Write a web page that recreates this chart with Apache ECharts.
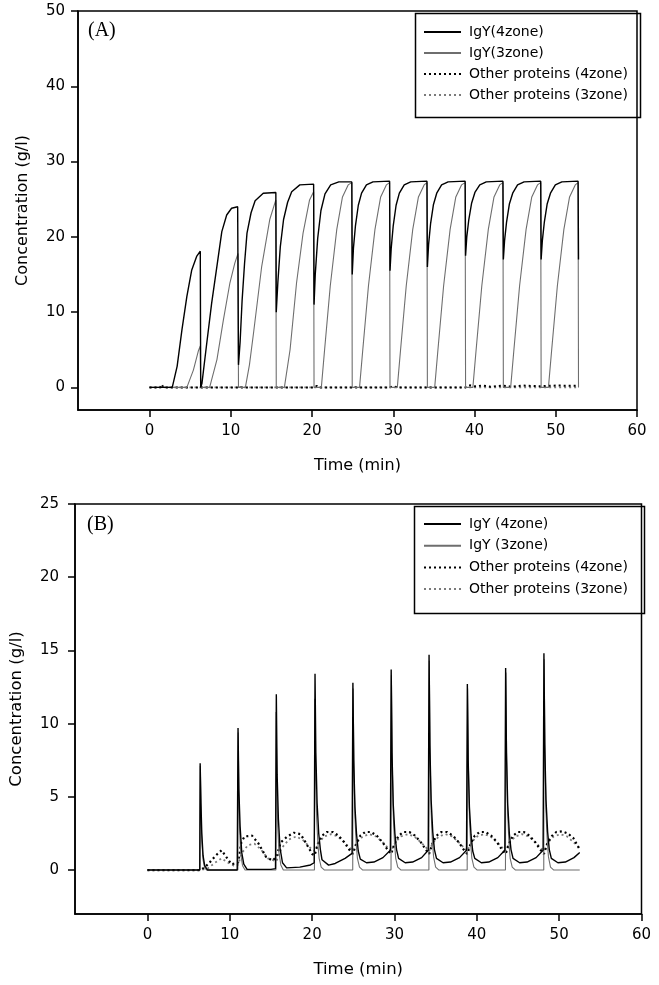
<!DOCTYPE html>
<html>
<head>
<meta charset="utf-8">
<script src="https://cdn.jsdelivr.net/npm/echarts@6/dist/echarts.min.js"></script>
<style>html,body{margin:0;padding:0;background:#fff}#c{width:659px;height:985px}</style>
</head>
<body>
<div id="c"></div>
<script>
// ---------- tick labels ----------
const xTicks = [0, 10, 20, 30, 40, 50, 60];
const yTicksA = [0, 10, 20, 30, 40, 50];
const yTicksB = [0, 5, 10, 15, 20, 25];

// ---------- legend names ----------
const namesA = ['IgY(4zone)', 'IgY(3zone)', 'Other proteins (4zone)', 'Other proteins (3zone)'];
const namesB = ['IgY (4zone)', 'IgY (3zone)', 'Other proteins (4zone)', 'Other proteins (3zone)'];

// ---------- Panel A data [time (min), concentration (g/l)] ----------
const A_igy4 = [
  [0,0],[2.8,0],[3.4,2.8],[4.0,7.7],[4.6,12.1],[5.2,15.6],[5.8,17.4],[6.25,18.1],[6.3,0],
  [6.45,0.5],[7.05,5.9],[7.65,11.2],[8.3,16.1],[8.9,20.7],[9.5,22.9],[10.1,23.8],[10.85,24.0],[10.95,3.0],
  [11.15,6],[11.4,11.6],[11.7,16.5],[12.0,20.5],[12.5,23.2],[13.0,24.8],[14.0,25.8],[15.55,25.9],[15.6,10],
  [15.8,14],[16.1,18.7],[16.5,22.3],[17.0,24.6],[17.5,26.0],[18.5,26.9],[20.2,27.0],[20.25,11],
  [20.4,15],[20.7,19.8],[21.1,23.5],[21.6,25.7],[22.3,26.9],[23.3,27.3],[24.9,27.3],[24.95,15],
  [25.1,18.5],[25.35,21.5],[25.7,24.2],[26.1,25.8],[26.7,26.9],[27.5,27.3],[29.55,27.4],[29.6,15.5],
  [29.75,18.5],[30.0,21.5],[30.35,24.2],[30.75,25.8],[31.35,26.9],[32.15,27.3],[34.15,27.4],[34.2,16],
  [34.35,19],[34.6,21.8],[34.95,24.3],[35.35,25.8],[35.95,26.9],[36.75,27.3],[38.85,27.4],[38.9,17.5],
  [39.05,20],[39.3,22.3],[39.65,24.5],[40.05,25.9],[40.65,26.9],[41.45,27.3],[43.5,27.4],[43.55,17],
  [43.7,19.5],[43.95,22],[44.3,24.4],[44.7,25.8],[45.3,26.9],[46.1,27.3],[48.15,27.4],[48.2,17],
  [48.35,19.5],[48.6,22],[48.95,24.4],[49.35,25.8],[49.95,26.9],[50.75,27.3],[52.75,27.4],[52.8,17]
];
const A_igy3 = [
  [0,0],[4.6,0],[5.4,2.3],[6.0,4.8],[6.25,5.5],[6.3,0],
  [7.4,0],[8.3,3.7],[9.1,9.0],[9.9,13.9],[10.5,16.5],[10.9,17.8],[10.95,0],
  [11.8,0],[12.3,3],[12.8,7.2],[13.8,16],[14.8,22.3],[15.55,24.9],[15.6,0],
  [16.6,0],[17.3,5],[18.1,13.9],[18.9,20.5],[19.7,24.9],[20.2,26.0],[20.25,0],
  [21.15,0],[21.55,5],[22.25,13.5],[23.05,21],[23.75,25.3],[24.45,26.9],[24.9,27.2],[24.95,0],
  [25.85,0],[26.25,5],[26.95,13.5],[27.75,21],[28.45,25.3],[29.15,26.9],[29.55,27.2],[29.6,0],
  [30.5,0],[30.9,5],[31.6,13.5],[32.4,21],[33.1,25.3],[33.8,26.9],[34.15,27.2],[34.2,0],
  [35.1,0],[35.5,5],[36.2,13.5],[37.0,21],[37.7,25.3],[38.4,26.9],[38.85,27.2],[38.9,0],
  [39.8,0],[40.2,5],[40.9,13.5],[41.7,21],[42.4,25.3],[43.1,26.9],[43.5,27.2],[43.55,0],
  [44.45,0],[44.85,5],[45.55,13.5],[46.35,21],[47.05,25.3],[47.75,26.9],[48.15,27.2],[48.2,0],
  [49.1,0],[49.5,5],[50.2,13.5],[51.0,21],[51.7,25.3],[52.4,26.9],[52.75,27.2],[52.8,0]
];
const A_oth4 = [
  [0,0],[1.3,0],[1.5,0.4],[1.7,0],[20.3,0],[20.6,0.2],[21.0,0],[29.6,0],[30.0,0.15],[30.5,0],
  [38.9,0],[39.3,0.3],[40.0,0.15],[41.0,0.25],[42.0,0.1],[43.5,0.25],[44.5,0.1],[46.0,0.25],
  [48.0,0.15],[50.0,0.25],[52.75,0.2]
];
const A_oth3 = [
  [0,0],[10.9,0],[11.2,0.1],[11.6,0],[25.0,0],[25.4,0.1],[25.8,0],[52.75,0]
];

// ---------- Panel B data [time (min), concentration (g/l)] ----------
const B_igy4 = [
  [0,0],[6.35,0],
  [6.4,7.3],[6.5,4.5],[6.6,2.5],[6.75,1.0],[6.95,0.3],[7.3,0],[10.9,0],
  [11.0,9.7],[11.1,5.5],[11.25,3.0],[11.45,1.2],[11.7,0.4],[12.1,0.05],[15.0,0.05],[15.55,0.1],
  [15.65,12.0],[15.75,6.5],[15.9,3.5],[16.1,1.5],[16.4,0.5],[16.9,0.15],[18.5,0.2],[19.8,0.35],[20.25,0.5],
  [20.35,13.4],[20.45,8],[20.6,4.6],[20.8,2.5],[21.0,1.4],[21.2,0.7],[22.0,0.34],[22.8,0.45],[24.0,0.8],[24.85,1.14],
  [24.95,12.8],[25.05,7.5],[25.2,4.3],[25.4,2.4],[25.6,1.3],[25.85,0.75],[26.6,0.5],[27.5,0.55],[28.6,0.85],[29.5,1.35],
  [29.6,13.7],[29.7,8],[29.85,4.5],[30.05,2.5],[30.25,1.4],[30.5,0.8],[31.3,0.5],[32.2,0.55],[33.3,0.85],[34.1,1.35],
  [34.2,14.7],[34.3,8.5],[34.45,4.8],[34.65,2.6],[34.85,1.4],[35.1,0.8],[35.9,0.5],[36.8,0.55],[37.9,0.85],[38.75,1.35],
  [38.85,12.7],[38.95,7.5],[39.1,4.3],[39.3,2.4],[39.5,1.3],[39.75,0.8],[40.55,0.5],[41.45,0.55],[42.55,0.85],[43.4,1.35],
  [43.5,13.8],[43.6,8],[43.75,4.5],[43.95,2.5],[44.15,1.4],[44.4,0.8],[45.2,0.5],[46.1,0.55],[47.2,0.85],[48.05,1.35],
  [48.15,14.8],[48.25,8.6],[48.4,4.8],[48.6,2.6],[48.8,1.4],[49.05,0.8],[49.85,0.5],[50.75,0.55],[51.8,0.85],[52.5,1.2]
];
const B_igy3 = [
  [0,0],[6.38,0],[6.42,7.1],[6.5,4.0],[6.6,2.0],[6.75,0.7],[6.95,0.15],[7.2,0],
  [10.98,0],[11.02,9.4],[11.1,5.0],[11.2,2.6],[11.35,1.0],[11.55,0.3],[11.85,0],
  [15.6,0],[15.62,10.8],[15.72,6.0],[15.82,3.0],[15.97,1.2],[16.2,0.35],[16.5,0],
  [20.28,0],[20.32,11.7],[20.42,6.5],[20.55,3.5],[20.7,1.8],[20.85,0.8],[21.1,0.2],[21.5,0],
  [24.93,0],[24.98,12.4],[25.08,7],[25.2,3.6],[25.35,1.8],[25.5,0.8],[25.75,0.2],[26.15,0],
  [29.58,0],[29.63,13.3],[29.73,7.3],[29.85,3.8],[30.0,1.9],[30.15,0.8],[30.4,0.2],[30.8,0],
  [34.18,0],[34.23,14.3],[34.33,7.8],[34.45,4.0],[34.6,2.0],[34.75,0.9],[35.0,0.2],[35.4,0],
  [38.83,0],[38.88,12.4],[38.98,7],[39.1,3.6],[39.25,1.8],[39.4,0.8],[39.65,0.2],[40.05,0],
  [43.48,0],[43.53,13.5],[43.63,7.4],[43.75,3.8],[43.9,1.9],[44.05,0.8],[44.3,0.2],[44.7,0],
  [48.13,0],[48.18,14.4],[48.28,7.8],[48.4,4.0],[48.55,2.0],[48.7,0.9],[48.95,0.2],[49.35,0],[52.5,0]
];
const B_oth4 = [
  [0,0],[6.4,0],[7.0,0.2],[7.6,0.55],[8.3,1.0],[9.0,1.35],[9.5,0.95],[10.2,0.4],[11.0,0.5],
  [11.4,1.9],[11.8,2.3],[12.7,2.35],[13.5,1.8],[14.4,0.9],[15.2,0.65],[15.65,0.9],
  [16.2,1.9],[17.0,2.3],[17.8,2.55],[18.6,2.45],[19.3,1.8],[20.0,1.1],[20.3,1.0],
  [20.7,1.8],[21.2,2.35],[21.8,2.6],[22.5,2.6],[23.2,2.35],[23.9,1.9],[24.5,1.4],[24.95,1.1],
  [25.35,1.8],[25.85,2.35],[26.45,2.6],[27.15,2.6],[27.85,2.35],[28.55,1.9],[29.15,1.4],[29.6,1.1],
  [30.0,1.8],[30.5,2.35],[31.1,2.6],[31.8,2.6],[32.5,2.35],[33.2,1.9],[33.8,1.4],[34.2,1.1],
  [34.6,1.8],[35.1,2.35],[35.7,2.6],[36.4,2.6],[37.1,2.35],[37.8,1.9],[38.4,1.4],[38.85,1.1],
  [39.25,1.8],[39.75,2.35],[40.35,2.6],[41.05,2.6],[41.75,2.35],[42.45,1.9],[43.05,1.4],[43.5,1.1],
  [43.9,1.8],[44.4,2.35],[45.0,2.6],[45.7,2.6],[46.4,2.35],[47.1,1.9],[47.7,1.4],[48.15,1.1],
  [48.55,1.8],[49.05,2.3],[49.65,2.6],[50.35,2.65],[51.05,2.5],[51.7,2.2],[52.2,1.7],[52.5,1.4]
];
const B_oth3 = [
  [0,0],[6.4,0],[7.3,0.1],[8.2,0.5],[9.0,0.8],[9.8,0.5],[10.5,0.3],[11.0,0.35],
  [11.5,1.2],[12.2,1.7],[13.0,1.8],[13.8,1.4],[14.6,0.8],[15.65,0.6],
  [16.3,1.5],[17.2,2.1],[18.1,2.3],[19.0,2.0],[19.8,1.5],[20.3,1.3],
  [20.8,1.9],[21.5,2.3],[22.3,2.45],[23.1,2.3],[23.9,1.9],[24.6,1.5],[24.95,1.3],
  [25.45,1.9],[26.15,2.3],[26.95,2.45],[27.75,2.3],[28.55,1.9],[29.25,1.5],[29.6,1.3],
  [30.1,1.9],[30.8,2.3],[31.6,2.45],[32.4,2.3],[33.2,1.9],[33.9,1.5],[34.2,1.3],
  [34.7,1.9],[35.4,2.3],[36.2,2.45],[37.0,2.3],[37.8,1.9],[38.5,1.5],[38.85,1.3],
  [39.35,1.9],[40.05,2.3],[40.85,2.45],[41.65,2.3],[42.45,1.9],[43.15,1.5],[43.5,1.3],
  [44.0,1.9],[44.7,2.3],[45.5,2.45],[46.3,2.3],[47.1,1.9],[47.8,1.5],[48.15,1.3],
  [48.65,1.9],[49.35,2.3],[50.15,2.45],[50.95,2.3],[51.75,1.9],[52.5,1.5]
];

// ---------- styles ----------
const FONT = 'DejaVu Sans';
const BLACK = '#000';
const GRAY = '#6e6e6e';
const GRAYDOT = '#7a7a7a';

function xAx(gi, labelSize, nameSize, gap) {
  return {
    type: 'value', gridIndex: gi, min: -8.8, max: 60,
    name: 'Time (min)', nameLocation: 'middle', nameGap: gap,
    nameTextStyle: {fontFamily: FONT, fontSize: nameSize, color: BLACK},
    axisLine: {show: true, onZero: false, lineStyle: {color: BLACK, width: 1.5}},
    axisTick: {show: true, inside: false, length: 7, customValues: xTicks, lineStyle: {color: BLACK, width: 1.5}},
    axisLabel: {customValues: xTicks, margin: 14, fontFamily: FONT, fontSize: labelSize, color: BLACK},
    splitLine: {show: false}
  };
}
function yAx(gi, min, max, ticks, labelSize, nameSize, gap, margin) {
  return {
    type: 'value', gridIndex: gi, min: min, max: max,
    name: 'Concentration (g/l)', nameLocation: 'middle', nameGap: gap,
    nameTextStyle: {fontFamily: FONT, fontSize: nameSize, color: BLACK},
    axisLine: {show: true, onZero: false, lineStyle: {color: BLACK, width: 1.5}},
    axisTick: {show: true, inside: false, length: 7, customValues: ticks, lineStyle: {color: BLACK, width: 1.5}},
    axisLabel: {customValues: ticks, margin: margin, fontFamily: FONT, fontSize: labelSize, color: BLACK},
    splitLine: {show: false}
  };
}
function ser(name, data, gi, color, width, type, z) {
  return {
    name: name, type: 'line', data: data, xAxisIndex: gi, yAxisIndex: gi,
    symbol: 'none', showSymbol: false, z: z, animation: false,
    lineStyle: {color: color, width: width, type: type},
    itemStyle: {color: color}
  };
}
function legend(names, top, gap, size) {
  return {
    orient: 'vertical', left: 423, top: top, padding: 0,
    itemWidth: 37, itemHeight: 14, itemGap: gap,
    itemStyle: {opacity: 0, borderWidth: 0},
    textStyle: {fontFamily: FONT, fontSize: size, color: BLACK, padding: [0, 0, 0, 3]},
    data: names, selectedMode: false
  };
}

const chart = echarts.init(document.getElementById('c'), null, {renderer: 'canvas'});
chart.setOption({
  backgroundColor: '#fff',
  animation: false,
  grid: [
    {left: 78, top: 11, width: 559, height: 399, show: true, borderColor: BLACK, borderWidth: 1.5, containLabel: false},
    {left: 71, top: 504, width: 570.5, height: 410, show: true, borderColor: BLACK, borderWidth: 1.5, containLabel: false}
  ],
  xAxis: [xAx(0, 15, 16, 48), xAx(1, 15, 16.5, 47)],
  yAxis: [yAx(0, -3, 50, yTicksA, 15, 16, 47, 13), yAx(1, -3, 25, yTicksB, 15, 16.5, 50, 16)],
  legend: [legend(namesA, 25, 7, 14), legend(namesB, 517, 7.7, 14)],
  graphic: [
    {type: 'rect', left: 413, top: 11, shape: {width: 225, height: 104}, style: {fill: 'none', stroke: BLACK, lineWidth: 1.5}, z: 5},
    {type: 'rect', left: 412, top: 504, shape: {width: 230, height: 107}, style: {fill: 'none', stroke: BLACK, lineWidth: 1.5}, z: 5},
    {type: 'text', left: 88, top: 21, style: {text: '(A)', font: '20px "Liberation Serif"', fill: BLACK}, z: 10},
    {type: 'text', left: 87, top: 515, style: {text: '(B)', font: '20px "Liberation Serif"', fill: BLACK}, z: 10}
  ],
  series: [
    ser(namesA[0], A_igy4, 0, BLACK, 1.4, 'solid', 4),
    ser(namesA[1], A_igy3, 0, GRAY, 1.1, 'solid', 3),
    ser(namesA[2], A_oth4, 0, BLACK, 2, [2, 3], 2),
    ser(namesA[3], A_oth3, 0, GRAYDOT, 1.6, [2, 3], 1),
    ser(namesB[0], B_igy4, 1, BLACK, 1.4, 'solid', 4),
    ser(namesB[1], B_igy3, 1, GRAY, 1.1, 'solid', 3),
    ser(namesB[2], B_oth4, 1, BLACK, 2.2, [2, 3], 2),
    ser(namesB[3], B_oth3, 1, GRAYDOT, 1.8, [2, 3], 1)
  ]
});
</script>
</body>
</html>
